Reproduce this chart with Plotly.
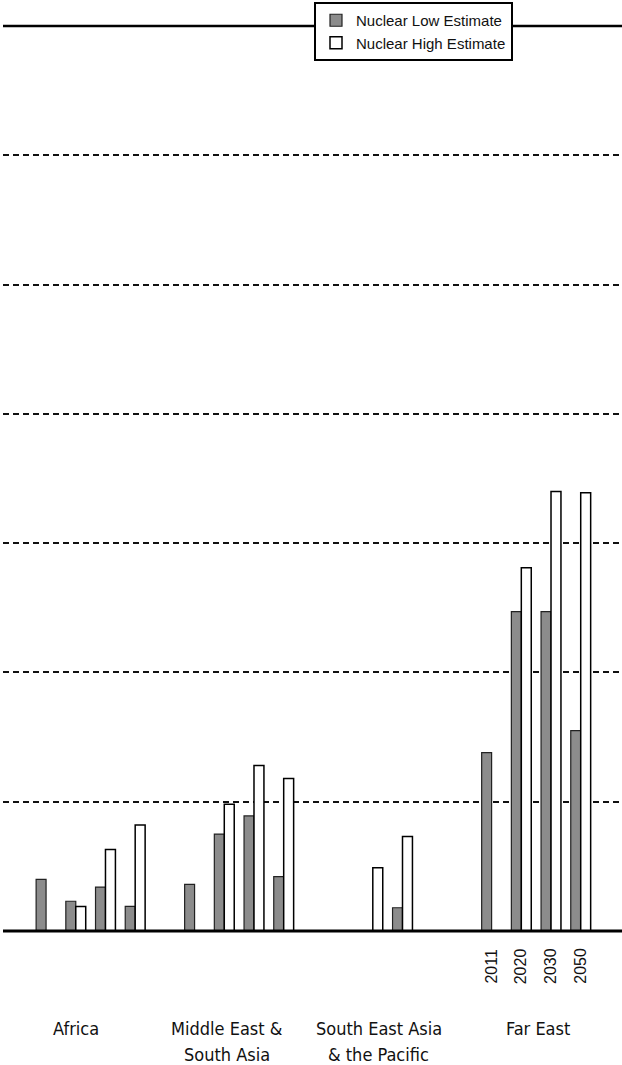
import plotly.graph_objects as go

regions = ["Africa", "Middle East &<br>South Asia", "South East Asia<br>& the Pacific", "Far East"]
years = ["2011", "2020", "2030", "2050"]

# values per region, per year (gridline step = 10)
low_values = [
    [4.0, 2.3, 3.4, 1.9],
    [3.6, 7.5, 8.9, 4.2],
    [None, None, 1.8, None],
    [13.8, 24.7, 24.7, 15.5],
]
high_values = [
    [None, 1.9, 6.3, 8.2],
    [None, 9.8, 12.8, 11.8],
    [None, 4.9, 7.3, None],
    [None, 28.1, 34.0, 33.9],
]

slots_per_region = len(years) + 1
x_pos = []
low_flat = []
high_flat = []
for r in range(len(regions)):
    for k in range(len(years)):
        x_pos.append(r * slots_per_region + k)
        low_flat.append(low_values[r][k])
        high_flat.append(high_values[r][k])

fig = go.Figure()
fig.add_trace(go.Bar(
    x=x_pos, y=low_flat, name="Nuclear Low Estimate",
    marker=dict(color="#8c8c8c", line=dict(color="#222222", width=1.2)),
))
fig.add_trace(go.Bar(
    x=x_pos, y=high_flat, name="Nuclear High Estimate",
    marker=dict(color="#ffffff", line=dict(color="#000000", width=1.5)),
))

# plot area: top at px 26, bottom at px 931
H_TOP, H_BOT = 26, 931
def py(p):
    return (H_BOT - p) / (H_BOT - H_TOP)

annotations = []
region_centers = [1.0, 6.1, 11.2, 16.55]
for r, lab in enumerate(regions):
    for li, line in enumerate(lab.split("<br>")):
        annotations.append(dict(
            x=region_centers[r], y=py(1028 + 26 * li), xref="x", yref="paper",
            text=line, showarrow=False, xanchor="center", yanchor="middle",
            font=dict(family="DejaVu Sans Condensed", size=18, color="#111111"),
        ))
last = len(regions) - 1
for k, yr in enumerate(years):
    annotations.append(dict(
        x=last * slots_per_region + k, y=py(966), xref="x", yref="paper",
        text=yr, showarrow=False, textangle=-90, xanchor="center", yanchor="middle",
        xshift=-1,
        font=dict(family="Liberation Sans, Arial", size=16, color="#111111"),
    ))

fig.update_layout(
    width=622, height=1065,
    margin=dict(l=3, r=0, t=H_TOP, b=1065 - H_BOT),
    plot_bgcolor="white", paper_bgcolor="white",
    barmode="group", bargap=0.33, bargroupgap=0,
    showlegend=True,
    legend=dict(
        x=(314 - 3) / 619, y=py(2), xanchor="left", yanchor="top",
        bgcolor="white", bordercolor="black", borderwidth=2,
        font=dict(family="Liberation Sans, Arial", size=15, color="#111111"),
        tracegroupgap=0,
    ),
    xaxis=dict(range=[-1.45, 19.39], showgrid=False, showticklabels=False,
               ticks="", zeroline=False, showline=False),
    yaxis=dict(range=[0, 70], dtick=10, showgrid=True, gridcolor="#111111",
               gridwidth=1.5, griddash="6px,4px", showticklabels=False,
               ticks="", zeroline=False, showline=False),
    annotations=annotations,
    shapes=[
        dict(type="line", xref="paper", yref="paper", x0=0, x1=1, y0=1, y1=1,
             line=dict(color="black", width=2.5)),
        dict(type="line", xref="paper", yref="paper", x0=0, x1=1, y0=0, y1=0,
             line=dict(color="black", width=3)),
    ],
)

fig.write_html("out.html", config={"displayModeBar": False},
               post_script="document.body.style.margin='0';")
